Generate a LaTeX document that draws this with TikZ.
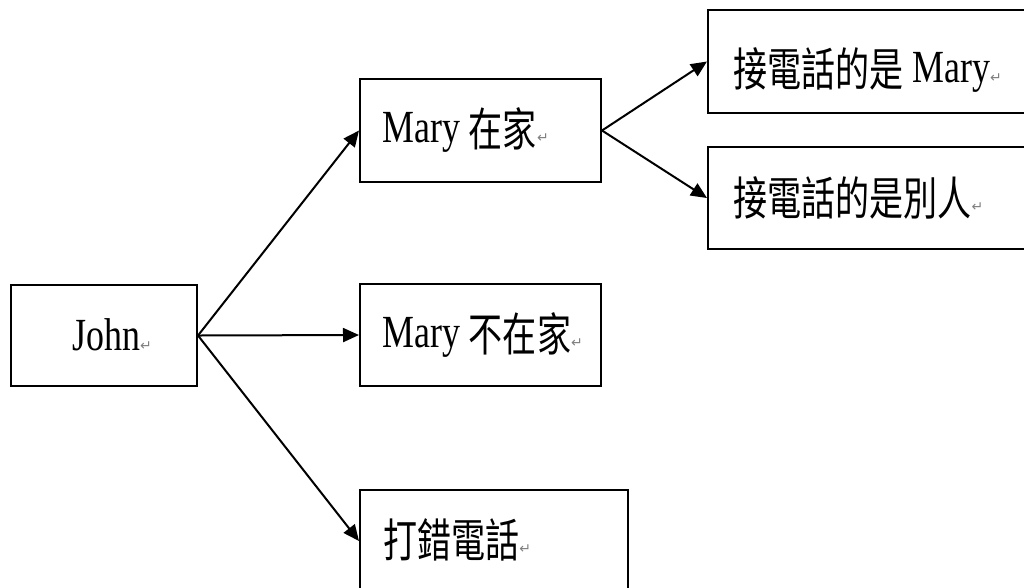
\documentclass[tikz,border=0pt]{standalone}
\usepackage{fontspec}
\setmainfont{Liberation Serif}[FakeStretch=0.78]
\newfontfamily\cjkfont{Noto Sans CJK TC}[FakeStretch=0.74]
\newfontfamily\symfont{DejaVu Sans}
\usetikzlibrary{arrows.meta}
\newcommand\cjtext[1]{\raisebox{-3pt}{\cjkfont #1}}
\newcommand\retmark{{\symfont\fontsize{10.5}{10.5}\selectfont\textcolor{gray}{↵}}}
\begin{document}
\begin{tikzpicture}[x=0.75pt,y=-0.75pt,
  box/.style={draw=black, line width=1.5pt, rectangle, inner sep=0pt},
  lbl/.style={anchor=base west, inner sep=0pt, font=\fontsize{34.5}{40}\selectfont},
  arr/.style={line width=1.5pt, -{Triangle[length=12pt,width=10.5pt]}}]
\useasboundingbox (0,0) rectangle (1024,587);
\clip (0,0) rectangle (1024,587);
% boxes
\node[box, minimum width=139.5pt, minimum height=75.75pt] (john)  at (104,335.5) {};
\node[box, minimum width=180.75pt, minimum height=77.25pt] (home) at (480.5,130.5) {};
\node[box, minimum width=180.75pt, minimum height=76.5pt] (away)  at (480.5,335) {};
\node[box, minimum width=201pt, minimum height=76.5pt] (wrong)    at (494,541) {};
\node[box, minimum width=249pt, minimum height=77.25pt] (mary)    at (874,61.5) {};
\node[box, minimum width=249pt, minimum height=76.5pt] (other)    at (874,198) {};
% texts
\node[lbl] (tjohn)  at (72,350)  {John\retmark};
\node[lbl] (thome)  at (382,142) {Mary \cjtext{在家}\retmark};
\node[lbl] (taway)  at (382,347) {Mary \cjtext{不在家}\retmark};
\node[lbl] (twrong) at (383,553) {\cjtext{打錯電話}\retmark};
\node[lbl] (tmary)  at (733,82)  {\cjtext{接電話的是} Mary\retmark};
\node[lbl] (tother) at (733,211) {\cjtext{接電話的是別人}\retmark};
% connectors
\draw[arr] (john.east) -- (home.west);
\draw[arr] (john.east) -- (away.west);
\draw[arr] (john.east) -- (wrong.west);
\draw[arr] (home.east) -- (mary.west);
\draw[arr] (home.east) -- (other.west);
\end{tikzpicture}
\end{document}
